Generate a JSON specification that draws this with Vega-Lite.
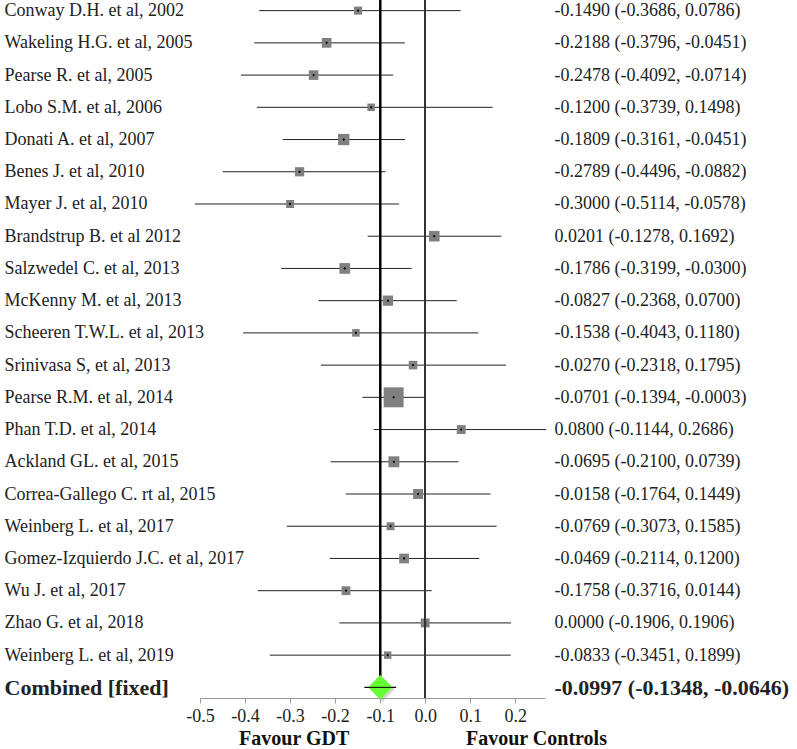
{
  "$schema": "https://vega.github.io/schema/vega-lite/v6.json",
  "width": 345,
  "height": 698,
  "autosize": {"type": "none"},
  "padding": {"left": 200, "top": 0, "right": 252, "bottom": 51},
  "background": "white",
  "config": {
    "view": {"stroke": null},
    "font": "Liberation Serif",
    "axis": {"labelFont": "Liberation Serif", "titleFont": "Liberation Serif"},
    "text": {"font": "Liberation Serif"},
    "axisX": {
      "domainColor": "#9a9a9a",
      "tickColor": "#9a9a9a",
      "tickSize": 5,
      "labelFont": "Liberation Serif",
      "labelFontSize": 18,
      "labelColor": "#222222",
      "labelPadding": 4,
      "labelFlush": false,
      "labelOverlap": false,
      "grid": false,
      "values": [-0.5, -0.4, -0.3, -0.2, -0.1, 0, 0.1, 0.2],
      "labelExpr": "datum.value < 0 ? '-' + format(-datum.value, '.1f') : format(datum.value, '.1f')"
    }
  },
  "datasets": {
    "rows": [
      {"study": "Conway D.H. et al,  2002", "est": -0.1490, "lo": -0.3686, "hi": 0.0786, "ci": "-0.1490 (-0.3686, 0.0786)", "weight": 2.4, "type": "study"},
      {"study": "Wakeling H.G. et al, 2005", "est": -0.2188, "lo": -0.3796, "hi": -0.0451, "ci": "-0.2188 (-0.3796, -0.0451)", "weight": 4.3, "type": "study"},
      {"study": "Pearse R. et al, 2005", "est": -0.2478, "lo": -0.4092, "hi": -0.0714, "ci": "-0.2478 (-0.4092, -0.0714)", "weight": 4.2, "type": "study"},
      {"study": "Lobo S.M. et al, 2006", "est": -0.1200, "lo": -0.3739, "hi": 0.1498, "ci": "-0.1200 (-0.3739, 0.1498)", "weight": 1.8, "type": "study"},
      {"study": "Donati A. et al, 2007", "est": -0.1809, "lo": -0.3161, "hi": -0.0451, "ci": "-0.1809 (-0.3161, -0.0451)", "weight": 6.6, "type": "study"},
      {"study": "Benes J. et al, 2010", "est": -0.2789, "lo": -0.4496, "hi": -0.0882, "ci": "-0.2789 (-0.4496, -0.0882)", "weight": 3.7, "type": "study"},
      {"study": "Mayer J. et al, 2010", "est": -0.3000, "lo": -0.5114, "hi": -0.0578, "ci": "-0.3000 (-0.5114, -0.0578)", "weight": 2.3, "type": "study"},
      {"study": "Brandstrup B. et al 2012", "est": 0.0201, "lo": -0.1278, "hi": 0.1692, "ci": "0.0201 (-0.1278, 0.1692)", "weight": 5.5, "type": "study"},
      {"study": "Salzwedel C. et al, 2013", "est": -0.1786, "lo": -0.3199, "hi": -0.0300, "ci": "-0.1786 (-0.3199, -0.0300)", "weight": 5.7, "type": "study"},
      {"study": "McKenny M. et al, 2013", "est": -0.0827, "lo": -0.2368, "hi": 0.0700, "ci": "-0.0827 (-0.2368, 0.0700)", "weight": 5.1, "type": "study"},
      {"study": "Scheeren T.W.L. et al, 2013", "est": -0.1538, "lo": -0.4043, "hi": 0.1180, "ci": "-0.1538 (-0.4043, 0.1180)", "weight": 1.8, "type": "study"},
      {"study": "Srinivasa S, et al, 2013", "est": -0.0270, "lo": -0.2318, "hi": 0.1795, "ci": "-0.0270 (-0.2318, 0.1795)", "weight": 2.9, "type": "study"},
      {"study": "Pearse R.M. et al, 2014", "est": -0.0701, "lo": -0.1394, "hi": -0.0003, "ci": "-0.0701 (-0.1394, -0.0003)", "weight": 24.9, "type": "study"},
      {"study": "Phan T.D. et al, 2014", "est": 0.0800, "lo": -0.1144, "hi": 0.2686, "ci": "0.0800 (-0.1144, 0.2686)", "weight": 3.3, "type": "study"},
      {"study": "Ackland GL. et al, 2015", "est": -0.0695, "lo": -0.2100, "hi": 0.0739, "ci": "-0.0695 (-0.2100, 0.0739)", "weight": 6.0, "type": "study"},
      {"study": "Correa-Gallego C. rt al, 2015", "est": -0.0158, "lo": -0.1764, "hi": 0.1449, "ci": "-0.0158 (-0.1764, 0.1449)", "weight": 4.7, "type": "study"},
      {"study": "Weinberg L. et al, 2017", "est": -0.0769, "lo": -0.3073, "hi": 0.1585, "ci": "-0.0769 (-0.3073, 0.1585)", "weight": 2.2, "type": "study"},
      {"study": "Gomez-Izquierdo J.C. et al, 2017", "est": -0.0469, "lo": -0.2114, "hi": 0.1200, "ci": "-0.0469 (-0.2114, 0.1200)", "weight": 4.4, "type": "study"},
      {"study": "Wu J. et al, 2017", "est": -0.1758, "lo": -0.3716, "hi": 0.0144, "ci": "-0.1758 (-0.3716, 0.0144)", "weight": 3.2, "type": "study"},
      {"study": "Zhao G. et al, 2018", "est": 0.0000, "lo": -0.1906, "hi": 0.1906, "ci": "0.0000 (-0.1906, 0.1906)", "weight": 3.3, "type": "study"},
      {"study": "Weinberg L. et al, 2019", "est": -0.0833, "lo": -0.3451, "hi": 0.1899, "ci": "-0.0833 (-0.3451, 0.1899)", "weight": 1.7, "type": "study"},
      {"study": "Combined [fixed]", "est": -0.0997, "lo": -0.1348, "hi": -0.0646, "ci": "-0.0997 (-0.1348, -0.0646)", "weight": 0, "type": "combined"}
    ],
    "notes": [
      {"label": "Favour GDT", "pos": -0.291},
      {"label": "Favour Controls", "pos": 0.247}
    ]
  },
  "data": {"name": "rows"},
  "layer": [
    {
      "encoding": {
        "y": {
          "field": "study", "type": "nominal", "sort": null,
          "scale": {"type": "point", "padding": 0.33},
          "axis": {
            "orient": "left", "title": null, "domain": false, "ticks": false, "tickSize": 0,
            "grid": false, "labelAlign": "left", "labelPadding": 196, "labelLimit": 0,
            "labelFont": "Liberation Serif",
            "labelColor": "#222222",
            "labelFontSize": {"condition": {"test": "datum.value == 'Combined [fixed]'", "value": 22}, "value": 18},
            "labelFontWeight": {"condition": {"test": "datum.value == 'Combined [fixed]'", "value": "bold"}, "value": "normal"}
          }
        }
      },
      "layer": [
        {
          "mark": {"type": "rule", "color": "#222222", "strokeWidth": 1},
          "encoding": {
            "x": {"field": "lo", "type": "quantitative", "title": null, "scale": {"domain": [-0.5, 0.266], "nice": false, "zero": false}},
            "x2": {"field": "hi"}
          }
        },
        {
          "mark": {"type": "point", "shape": "square", "filled": true, "color": "#808080", "opacity": 1},
          "encoding": {
            "x": {"field": "est", "type": "quantitative", "title": null},
            "size": {"field": "weight", "type": "quantitative", "scale": {"domain": [0, 25], "range": [30, 400]}, "legend": null},
            "opacity": {"condition": {"test": "datum.type == 'study'", "value": 1}, "value": 0}
          }
        },
        {
          "mark": {"type": "point", "shape": "circle", "filled": true, "color": "#000000", "size": 5},
          "encoding": {
            "x": {"field": "est", "type": "quantitative", "title": null},
            "opacity": {"condition": {"test": "datum.type == 'study'", "value": 1}, "value": 0}
          }
        },
        {
          "mark": {"type": "rule", "color": "#000000", "strokeWidth": 2.5},
          "encoding": {
            "x": {"field": "est", "type": "quantitative", "title": null},
            "y2": {"value": 0},
            "opacity": {"condition": {"test": "datum.type == 'combined'", "value": 1}, "value": 0}
          }
        },
        {
          "mark": {"type": "point", "shape": "diamond", "filled": true, "color": "#8a8a8a", "size": 620, "xOffset": 2, "yOffset": 2},
          "encoding": {
            "x": {"field": "est", "type": "quantitative", "title": null},
            "opacity": {"condition": {"test": "datum.type == 'combined'", "value": 0.35}, "value": 0}
          }
        },
        {
          "mark": {"type": "point", "shape": "diamond", "filled": true, "color": "#66ff33", "size": 600},
          "encoding": {
            "x": {"field": "est", "type": "quantitative", "title": null},
            "opacity": {"condition": {"test": "datum.type == 'combined'", "value": 1}, "value": 0}
          }
        },
        {
          "mark": {"type": "rule", "color": "#000000", "strokeWidth": 1},
          "encoding": {
            "x": {"field": "lo", "type": "quantitative", "title": null},
            "x2": {"field": "hi"},
            "opacity": {"condition": {"test": "datum.type == 'combined'", "value": 1}, "value": 0}
          }
        }
      ]
    },
    {
      "mark": {"type": "point", "opacity": 0},
      "encoding": {
        "x": {"field": "est", "type": "quantitative", "title": null},
        "y": {
          "field": "ci", "type": "nominal", "sort": null,
          "scale": {"type": "point", "padding": 0.33},
          "axis": {
            "orient": "right", "title": null, "domain": false, "ticks": false, "tickSize": 0,
            "grid": false, "labelAlign": "left", "labelPadding": 9, "labelLimit": 0,
            "labelFont": "Liberation Serif",
            "labelColor": "#222222",
            "labelFontSize": {"condition": {"test": "datum.value == '-0.0997 (-0.1348, -0.0646)'", "value": 22}, "value": 18},
            "labelFontWeight": {"condition": {"test": "datum.value == '-0.0997 (-0.1348, -0.0646)'", "value": "bold"}, "value": "normal"}
          }
        }
      }
    },
    {
      "mark": {"type": "rule", "color": "#333333", "strokeWidth": 1.3},
      "encoding": {"x": {"datum": 0, "type": "quantitative", "title": null}}
    },
    {
      "data": {"name": "notes"},
      "mark": {"type": "text", "font": "Liberation Serif", "fontWeight": "bold", "fontSize": 20, "color": "#111111", "baseline": "middle", "align": "center", "y": {"expr": "height + 41"}},
      "encoding": {
        "x": {"field": "pos", "type": "quantitative", "title": null},
        "text": {"field": "label"}
      }
    }
  ],
  "resolve": {"scale": {"y": "independent"}, "axis": {"y": "independent"}}
}
